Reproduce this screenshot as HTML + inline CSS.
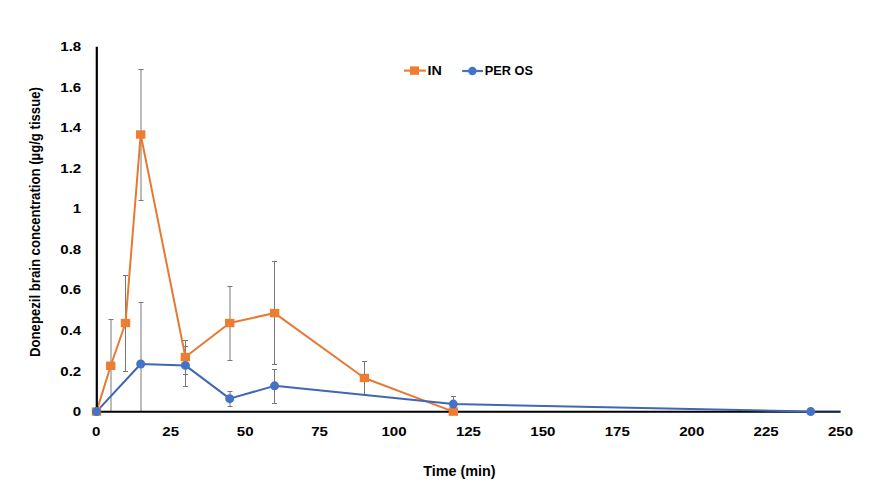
<!DOCTYPE html>
<html><head><meta charset="utf-8"><style>
html,body{margin:0;padding:0;background:#fff;}
body{width:871px;height:487px;overflow:hidden;}
svg{display:block;}
</style></head><body>
<svg width="871" height="487" viewBox="0 0 871 487">
<rect width="871" height="487" fill="#fff"/>
<line x1="111.00" y1="319.50" x2="111.00" y2="411.60" stroke="#787878" stroke-width="1"/>
<line x1="108.50" y1="319.50" x2="113.50" y2="319.50" stroke="#787878" stroke-width="1"/>
<line x1="125.50" y1="275.50" x2="125.50" y2="371.50" stroke="#787878" stroke-width="1"/>
<line x1="123.00" y1="275.50" x2="128.00" y2="275.50" stroke="#787878" stroke-width="1"/>
<line x1="123.00" y1="371.50" x2="128.00" y2="371.50" stroke="#787878" stroke-width="1"/>
<line x1="141.00" y1="69.50" x2="141.00" y2="200.50" stroke="#787878" stroke-width="1"/>
<line x1="138.50" y1="69.50" x2="143.50" y2="69.50" stroke="#787878" stroke-width="1"/>
<line x1="138.50" y1="200.50" x2="143.50" y2="200.50" stroke="#787878" stroke-width="1"/>
<line x1="185.50" y1="340.50" x2="185.50" y2="374.50" stroke="#787878" stroke-width="1"/>
<line x1="183.00" y1="340.50" x2="188.00" y2="340.50" stroke="#787878" stroke-width="1"/>
<line x1="183.00" y1="374.50" x2="188.00" y2="374.50" stroke="#787878" stroke-width="1"/>
<line x1="230.00" y1="286.50" x2="230.00" y2="360.50" stroke="#787878" stroke-width="1"/>
<line x1="227.50" y1="286.50" x2="232.50" y2="286.50" stroke="#787878" stroke-width="1"/>
<line x1="227.50" y1="360.50" x2="232.50" y2="360.50" stroke="#787878" stroke-width="1"/>
<line x1="274.50" y1="261.50" x2="274.50" y2="364.50" stroke="#787878" stroke-width="1"/>
<line x1="272.00" y1="261.50" x2="277.00" y2="261.50" stroke="#787878" stroke-width="1"/>
<line x1="272.00" y1="364.50" x2="277.00" y2="364.50" stroke="#787878" stroke-width="1"/>
<line x1="364.50" y1="361.50" x2="364.50" y2="394.50" stroke="#787878" stroke-width="1"/>
<line x1="362.00" y1="361.50" x2="367.00" y2="361.50" stroke="#787878" stroke-width="1"/>
<line x1="362.00" y1="394.50" x2="367.00" y2="394.50" stroke="#787878" stroke-width="1"/>
<line x1="141.00" y1="302.50" x2="141.00" y2="411.60" stroke="#787878" stroke-width="1"/>
<line x1="138.50" y1="302.50" x2="143.50" y2="302.50" stroke="#787878" stroke-width="1"/>
<line x1="185.50" y1="346.50" x2="185.50" y2="386.50" stroke="#787878" stroke-width="1"/>
<line x1="183.00" y1="346.50" x2="188.00" y2="346.50" stroke="#787878" stroke-width="1"/>
<line x1="183.00" y1="386.50" x2="188.00" y2="386.50" stroke="#787878" stroke-width="1"/>
<line x1="230.00" y1="391.50" x2="230.00" y2="406.50" stroke="#787878" stroke-width="1"/>
<line x1="227.50" y1="391.50" x2="232.50" y2="391.50" stroke="#787878" stroke-width="1"/>
<line x1="227.50" y1="406.50" x2="232.50" y2="406.50" stroke="#787878" stroke-width="1"/>
<line x1="274.50" y1="369.50" x2="274.50" y2="403.50" stroke="#787878" stroke-width="1"/>
<line x1="272.00" y1="369.50" x2="277.00" y2="369.50" stroke="#787878" stroke-width="1"/>
<line x1="272.00" y1="403.50" x2="277.00" y2="403.50" stroke="#787878" stroke-width="1"/>
<line x1="453.50" y1="396.50" x2="453.50" y2="411.60" stroke="#787878" stroke-width="1"/>
<line x1="451.00" y1="396.50" x2="456.00" y2="396.50" stroke="#787878" stroke-width="1"/>
<polyline points="96.50,411.60 110.70,365.79 125.50,323.02 140.70,134.51 185.40,357.07 229.70,323.02 274.60,313.09 364.40,377.95 453.30,411.60" fill="none" stroke="#E67A32" stroke-width="2.0" stroke-linejoin="round"/>
<line x1="96.8" y1="46.7" x2="96.8" y2="412.60" stroke="#000" stroke-width="2.2"/>
<line x1="95.5" y1="411.75" x2="840.6" y2="411.75" stroke="#000" stroke-width="2"/>
<polyline points="96.50,411.60 140.70,363.97 185.40,365.38 229.70,398.63 274.60,385.86 453.30,404.10 810.70,411.60" fill="none" stroke="#3F67B2" stroke-width="2.0" stroke-linejoin="round"/>
<line x1="811" y1="411.0" x2="840.3" y2="411.0" stroke="#4472C4" stroke-width="1.6" stroke-opacity="0.45"/>
<rect x="91.80" y="407.40" width="9.4" height="8.4" fill="#ED7D31"/>
<rect x="106.00" y="361.59" width="9.4" height="8.4" fill="#ED7D31"/>
<rect x="120.80" y="318.82" width="9.4" height="8.4" fill="#ED7D31"/>
<rect x="136.00" y="130.31" width="9.4" height="8.4" fill="#ED7D31"/>
<rect x="180.70" y="352.87" width="9.4" height="8.4" fill="#ED7D31"/>
<rect x="225.00" y="318.82" width="9.4" height="8.4" fill="#ED7D31"/>
<rect x="269.90" y="308.89" width="9.4" height="8.4" fill="#ED7D31"/>
<rect x="359.70" y="373.75" width="9.4" height="8.4" fill="#ED7D31"/>
<rect x="448.60" y="407.40" width="9.4" height="8.4" fill="#ED7D31"/>
<circle cx="96.50" cy="411.60" r="4.5" fill="#4472C4"/>
<circle cx="140.70" cy="363.97" r="4.5" fill="#4472C4"/>
<circle cx="185.40" cy="365.38" r="4.5" fill="#4472C4"/>
<circle cx="229.70" cy="398.63" r="4.5" fill="#4472C4"/>
<circle cx="274.60" cy="385.86" r="4.5" fill="#4472C4"/>
<circle cx="453.30" cy="404.10" r="4.5" fill="#4472C4"/>
<circle cx="810.70" cy="411.60" r="4.5" fill="#4472C4"/>
<line x1="404" y1="70.6" x2="425.8" y2="70.6" stroke="#ED7D31" stroke-width="2.2"/>
<rect x="410" y="66.4" width="9" height="8.4" fill="#ED7D31"/>
<line x1="462.2" y1="71" x2="483" y2="71" stroke="#4472C4" stroke-width="2.2"/>
<circle cx="472.4" cy="71" r="4.2" fill="#4472C4"/>
<text transform="translate(81.2,416.10) scale(1.14,1)" text-anchor="end" style="font-family:'Liberation Sans',sans-serif;font-weight:bold;fill:#000;font-size:13.2px">0</text>
<text transform="translate(81.2,375.56) scale(1.14,1)" text-anchor="end" style="font-family:'Liberation Sans',sans-serif;font-weight:bold;fill:#000;font-size:13.2px">0.2</text>
<text transform="translate(81.2,335.02) scale(1.14,1)" text-anchor="end" style="font-family:'Liberation Sans',sans-serif;font-weight:bold;fill:#000;font-size:13.2px">0.4</text>
<text transform="translate(81.2,294.48) scale(1.14,1)" text-anchor="end" style="font-family:'Liberation Sans',sans-serif;font-weight:bold;fill:#000;font-size:13.2px">0.6</text>
<text transform="translate(81.2,253.94) scale(1.14,1)" text-anchor="end" style="font-family:'Liberation Sans',sans-serif;font-weight:bold;fill:#000;font-size:13.2px">0.8</text>
<text transform="translate(81.2,213.40) scale(1.14,1)" text-anchor="end" style="font-family:'Liberation Sans',sans-serif;font-weight:bold;fill:#000;font-size:13.2px">1</text>
<text transform="translate(81.2,172.86) scale(1.14,1)" text-anchor="end" style="font-family:'Liberation Sans',sans-serif;font-weight:bold;fill:#000;font-size:13.2px">1.2</text>
<text transform="translate(81.2,132.32) scale(1.14,1)" text-anchor="end" style="font-family:'Liberation Sans',sans-serif;font-weight:bold;fill:#000;font-size:13.2px">1.4</text>
<text transform="translate(81.2,91.78) scale(1.14,1)" text-anchor="end" style="font-family:'Liberation Sans',sans-serif;font-weight:bold;fill:#000;font-size:13.2px">1.6</text>
<text transform="translate(81.2,51.24) scale(1.14,1)" text-anchor="end" style="font-family:'Liberation Sans',sans-serif;font-weight:bold;fill:#000;font-size:13.2px">1.8</text>
<text transform="translate(96.30,435.7) scale(1.14,1)" text-anchor="middle" style="font-family:'Liberation Sans',sans-serif;font-weight:bold;fill:#000;font-size:13.2px">0</text>
<text transform="translate(170.72,435.7) scale(1.14,1)" text-anchor="middle" style="font-family:'Liberation Sans',sans-serif;font-weight:bold;fill:#000;font-size:13.2px">25</text>
<text transform="translate(245.15,435.7) scale(1.14,1)" text-anchor="middle" style="font-family:'Liberation Sans',sans-serif;font-weight:bold;fill:#000;font-size:13.2px">50</text>
<text transform="translate(319.57,435.7) scale(1.14,1)" text-anchor="middle" style="font-family:'Liberation Sans',sans-serif;font-weight:bold;fill:#000;font-size:13.2px">75</text>
<text transform="translate(394.00,435.7) scale(1.14,1)" text-anchor="middle" style="font-family:'Liberation Sans',sans-serif;font-weight:bold;fill:#000;font-size:13.2px">100</text>
<text transform="translate(468.43,435.7) scale(1.14,1)" text-anchor="middle" style="font-family:'Liberation Sans',sans-serif;font-weight:bold;fill:#000;font-size:13.2px">125</text>
<text transform="translate(542.85,435.7) scale(1.14,1)" text-anchor="middle" style="font-family:'Liberation Sans',sans-serif;font-weight:bold;fill:#000;font-size:13.2px">150</text>
<text transform="translate(617.27,435.7) scale(1.14,1)" text-anchor="middle" style="font-family:'Liberation Sans',sans-serif;font-weight:bold;fill:#000;font-size:13.2px">175</text>
<text transform="translate(691.70,435.7) scale(1.14,1)" text-anchor="middle" style="font-family:'Liberation Sans',sans-serif;font-weight:bold;fill:#000;font-size:13.2px">200</text>
<text transform="translate(766.12,435.7) scale(1.14,1)" text-anchor="middle" style="font-family:'Liberation Sans',sans-serif;font-weight:bold;fill:#000;font-size:13.2px">225</text>
<text transform="translate(840.55,435.7) scale(1.14,1)" text-anchor="middle" style="font-family:'Liberation Sans',sans-serif;font-weight:bold;fill:#000;font-size:13.2px">250</text>
<text x="459.4" y="476.2" text-anchor="middle" style="font-family:'Liberation Sans',sans-serif;font-weight:bold;fill:#000;font-size:14.4px">Time (min)</text>
<text transform="translate(40.2,222.05) rotate(-90) scale(0.94,1)" x="0" y="0" text-anchor="middle" style="font-family:'Liberation Sans',sans-serif;font-weight:bold;fill:#000;font-size:14px">Donepezil brain concentration (µg/g tissue)</text>
<text transform="translate(427.5,74.7) scale(1.1,1)" style="font-family:'Liberation Sans',sans-serif;font-weight:bold;fill:#000;font-size:13px">IN</text>
<text transform="translate(484.8,74.8) scale(0.98,1)" style="font-family:'Liberation Sans',sans-serif;font-weight:bold;fill:#000;font-size:13px">PER OS</text>
</svg>
</body></html>
